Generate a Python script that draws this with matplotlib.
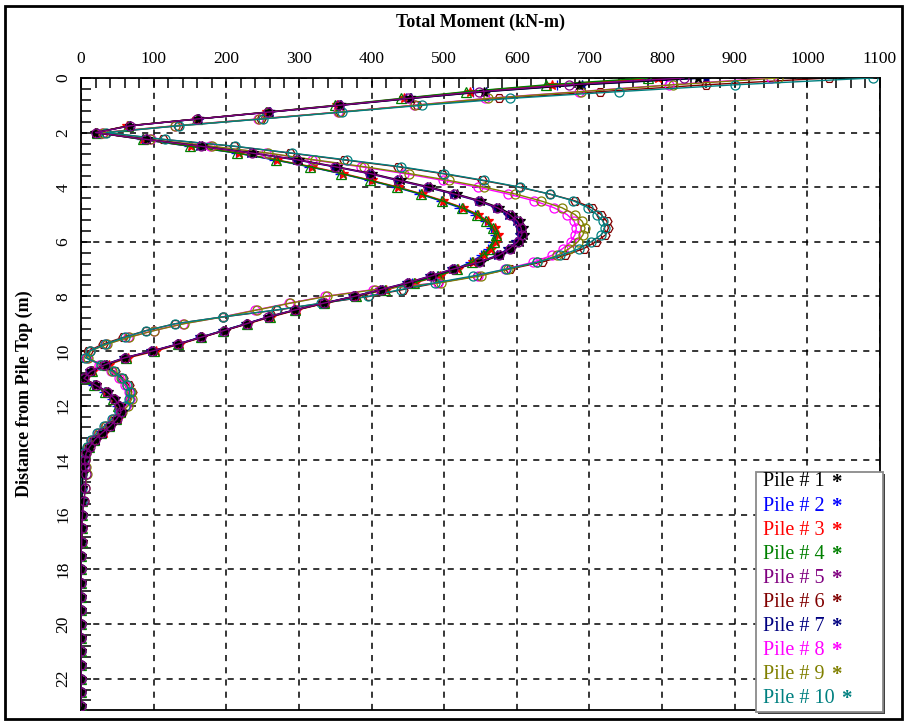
import matplotlib
matplotlib.use('Agg')
import matplotlib.pyplot as plt
from matplotlib.patches import Rectangle
from matplotlib.ticker import MultipleLocator

plt.rcParams['font.family'] = 'Liberation Serif'

# depth below pile top (m)
depth = [0.0, 0.25, 0.5, 0.75, 1.0, 1.25, 1.5, 1.75, 2.0, 2.25,
         2.5, 2.75, 3.0, 3.25, 3.5, 3.75, 4.0, 4.25, 4.5, 4.75,
         5.0, 5.25, 5.5, 5.75, 6.0, 6.25, 6.5, 6.75, 7.0, 7.25,
         7.5, 7.75, 8.0, 8.25, 8.5, 8.75, 9.0, 9.25, 9.5, 9.75,
         10.0, 10.25, 10.5, 10.75, 11.0, 11.25, 11.5, 11.75, 12.0, 12.25,
         12.5, 12.75, 13.0, 13.25, 13.5, 13.75, 14.0, 14.25, 14.5,
         15.0, 15.5, 16.0, 16.5, 17.0, 17.5, 18.0, 18.5, 19.0, 19.5,
         20.0, 20.5, 21.0, 21.5, 22.0, 22.5, 23.0]

# total moment (kN-m) per pile
pile1 = [850, 685, 555, 453, 357, 259, 161, 67, 19, 91,
         167, 237, 300, 352, 400, 440, 481, 517, 550, 576,
         593, 604, 609, 610, 604, 592, 577, 550, 514, 484,
         452, 414, 377, 335, 295, 259, 229, 198, 166, 134,
         99, 61, 34, 14, 4, 21, 37, 47, 54, 56,
         50, 41, 30, 20, 12, 7, 4, 3, 2,
         2, 1, 1, 1, 1, 0, 0, 0, 0, 0, 0, 0, 0, 0, 0, 0, 0]
pile2 = [805, 655, 540, 447, 354, 257, 161, 66, 21, 84,
         149, 214, 266, 314, 357, 396, 433, 466, 495, 521,
         542, 556, 565, 570, 567, 561, 551, 536, 515, 490,
         456, 416, 376, 334, 294, 259, 227, 195, 164, 133,
         99, 61, 35, 14, 4, 17, 32, 43, 50, 53,
         47, 37, 27, 17, 10, 6, 4, 3, 2,
         2, 1, 1, 1, 1, 0, 0, 0, 0, 0, 0, 0, 0, 0, 0, 0, 0]
pile3 = [795, 648, 535, 444, 352, 256, 160, 64, 20, 86,
         152, 218, 270, 318, 361, 400, 437, 470, 499, 526,
         547, 561, 570, 574, 571, 565, 555, 540, 519, 494,
         460, 420, 380, 337, 297, 262, 230, 198, 167, 136,
         103, 65, 38, 17, 5, 20, 35, 46, 53, 57,
         51, 41, 31, 21, 13, 7, 4, 3, 2,
         2, 1, 1, 1, 1, 0, 0, 0, 0, 0, 0, 0, 0, 0, 0, 0, 0]
pile4 = [780, 640, 530, 440, 350, 255, 160, 65, 22, 85,
         150, 215, 268, 315, 358, 398, 435, 468, 497, 524,
         545, 558, 567, 572, 569, 563, 553, 538, 517, 492,
         458, 418, 378, 335, 295, 260, 228, 196, 165, 134,
         100, 62, 36, 15, 4, 18, 33, 44, 51, 54,
         48, 38, 28, 18, 11, 6, 4, 3, 2,
         2, 1, 1, 1, 1, 0, 0, 0, 0, 0, 0, 0, 0, 0, 0, 0, 0]
pile5 = [830, 672, 548, 450, 355, 258, 160, 68, 20, 90,
         165, 235, 298, 350, 398, 437, 478, 514, 548, 573,
         590, 601, 606, 607, 601, 590, 575, 548, 512, 482,
         450, 413, 376, 334, 294, 258, 228, 197, 165, 133,
         98, 60, 33, 13, 4, 20, 36, 46, 53, 55,
         49, 40, 29, 19, 12, 7, 5, 6, 7,
         6, 4, 2, 1, 1, 0, 0, 0, 0, 0, 0, 0, 0, 0, 0, 0, 0]
pile6 = [1030, 860, 715, 575, 462, 356, 248, 134, 34, 113,
         210, 288, 362, 436, 497, 552, 603, 645, 680, 703,
         716, 724, 726, 722, 709, 692, 666, 634, 590, 545,
         492, 443, 397, 332, 270, 196, 130, 90, 58, 30,
         10, 7, 30, 47, 58, 66, 70, 68, 62, 54,
         44, 33, 23, 14, 8, 4, 3, 2, 2,
         1, 1, 1, 0, 0, 0, 0, 0, 0, 0, 0, 0, 0, 0, 0, 0, 0]
pile7 = [860, 690, 558, 455, 358, 260, 162, 68, 21, 89,
         163, 233, 296, 348, 396, 435, 476, 512, 546, 571,
         588, 599, 604, 605, 599, 588, 573, 546, 511, 481,
         449, 412, 375, 333, 293, 257, 227, 196, 164, 132,
         97, 59, 32, 12, 3, 19, 35, 45, 52, 54,
         48, 39, 28, 18, 11, 6, 4, 3, 2,
         2, 1, 1, 1, 1, 0, 0, 0, 0, 0, 0, 0, 0, 0, 0, 0, 0]
pile8 = [950, 810, 685, 556, 458, 354, 244, 129, 29, 96,
         178, 255, 318, 385, 445, 498, 546, 588, 624, 651,
         669, 679, 682, 680, 674, 663, 648, 622, 584, 546,
         492, 402, 336, 286, 240, 195, 141, 100, 65, 35,
         12, 8, 25, 41, 53, 61, 66, 67, 62, 54,
         44, 34, 24, 15, 9, 5, 4, 3, 2,
         2, 1, 1, 1, 0, 0, 0, 0, 0, 0, 0, 0, 0, 0, 0, 0, 0]
pile9 = [960, 815, 688, 560, 460, 355, 245, 130, 30, 95,
         180, 258, 322, 390, 452, 506, 555, 598, 633, 662,
         680, 690, 694, 691, 684, 672, 656, 628, 588, 550,
         495, 405, 338, 288, 242, 196, 142, 101, 66, 36,
         13, 9, 27, 43, 55, 63, 69, 70, 65, 56,
         45, 35, 25, 16, 10, 7, 6, 7, 8,
         6, 4, 2, 1, 1, 0, 0, 0, 0, 0, 0, 0, 0, 0, 0, 0, 0]
pile10 = [1090, 900, 740, 590, 470, 360, 250, 135, 35, 115,
          212, 290, 366, 440, 500, 555, 605, 645, 678, 698,
          710, 719, 721, 716, 702, 686, 660, 628, 585, 540,
          488, 440, 395, 330, 268, 195, 130, 90, 60, 33,
          12, 6, 28, 45, 56, 63, 67, 66, 60, 52,
          42, 32, 22, 14, 8, 4, 3, 2, 2,
          1, 1, 1, 0, 0, 0, 0, 0, 0, 0, 0, 0, 0, 0, 0, 0, 0]

piles = [pile1, pile2, pile3, pile4, pile5, pile6, pile7, pile8, pile9, pile10]
labels = ['Pile # %d' % i for i in range(1, 11)]
colors = ['#000000', '#0000FF', '#FF0000', '#008000', '#800080',
          '#800000', '#000080', '#FF00FF', '#808000', '#008080']
markers = ['*', '+', '*', '^', 'o', 'H', '*', 'o', 'o', 'o']
# drawing order so the colours that dominate each bundle sit on top
zorders = [3.3, 2.1, 2.4, 2.6, 3.5, 2.5, 2.2, 2.7, 2.9, 3.0]

fig = plt.figure(figsize=(9.07, 7.24), dpi=100)
W, H = 907.0, 724.0
ax = fig.add_axes([81 / W, 1 - 710 / H, (880 - 81) / W, (710 - 78) / H])

for vals, c, m, z in zip(piles, colors, markers, zorders):
    filled = m in ('*', '+')
    ax.plot(vals, depth, color=c, lw=1.0, marker=m, ms=7 if m == '*' else 6.5,
            mfc=c if filled else 'none', mec=c, mew=0.9, zorder=z)

ax.set_xlim(0, 1100)
ax.set_ylim(23.15, 0)
ax.xaxis.set_major_locator(MultipleLocator(100))
ax.xaxis.set_minor_locator(MultipleLocator(20))
ax.yaxis.set_major_locator(MultipleLocator(2))
ax.yaxis.set_minor_locator(MultipleLocator(0.4))
ax.xaxis.tick_top()
ax.xaxis.set_label_position('top')
ax.tick_params(which='both', direction='in', length=7, width=1.1,
               top=True, bottom=False, left=True, right=False)
ax.tick_params(axis='both', labelsize=12.5)
ax.tick_params(axis='x', pad=8)
ax.tick_params(axis='y', pad=7)
for lab in ax.get_yticklabels():
    lab.set_rotation(90)
    lab.set_va('center')

ax.grid(True, which='major', color='black', ls=(0, (4, 4)), lw=1.1)
for s in ax.spines.values():
    s.set_linewidth(1.3)

ax.set_xlabel('Total Moment (kN-m)', fontsize=13, fontweight='bold', labelpad=17)
ax.set_ylabel('Distance from Pile Top (m)', fontsize=13, fontweight='bold', labelpad=16)

# legend box drawn by hand: left-aligned coloured text followed by a coloured star
fig.patches.append(Rectangle((758 / W, 1 - 714 / H), 127 / W, 240 / H,
                             transform=fig.transFigure, facecolor='#404040',
                             edgecolor='none', zorder=5))
fig.patches.append(Rectangle((756 / W, 1 - 712 / H), 127 / W, 240 / H,
                             transform=fig.transFigure, facecolor='white',
                             edgecolor='#8a8a8a', lw=1.3, zorder=6))
renderer = fig.canvas.get_renderer()
for i, (lab, c) in enumerate(zip(labels, colors)):
    yc = 1 - (482 + 24.1 * i) / H
    t = fig.text(763 / W, yc, lab, color=c, fontsize=14.5, va='center',
                 ha='left', zorder=7)
    bb = t.get_window_extent(renderer)
    fig.text((bb.x1 + 7) / W, yc - 0.5 / H, '*', color=c, fontsize=15,
             fontweight='bold', va='center', ha='left', zorder=7)

fig.patches.append(Rectangle((5 / W, 1 - 719 / H), 897 / W, 713 / H,
                             transform=fig.transFigure, fill=False,
                             edgecolor='black', lw=2.0))

fig.savefig('out.png', dpi=100)
